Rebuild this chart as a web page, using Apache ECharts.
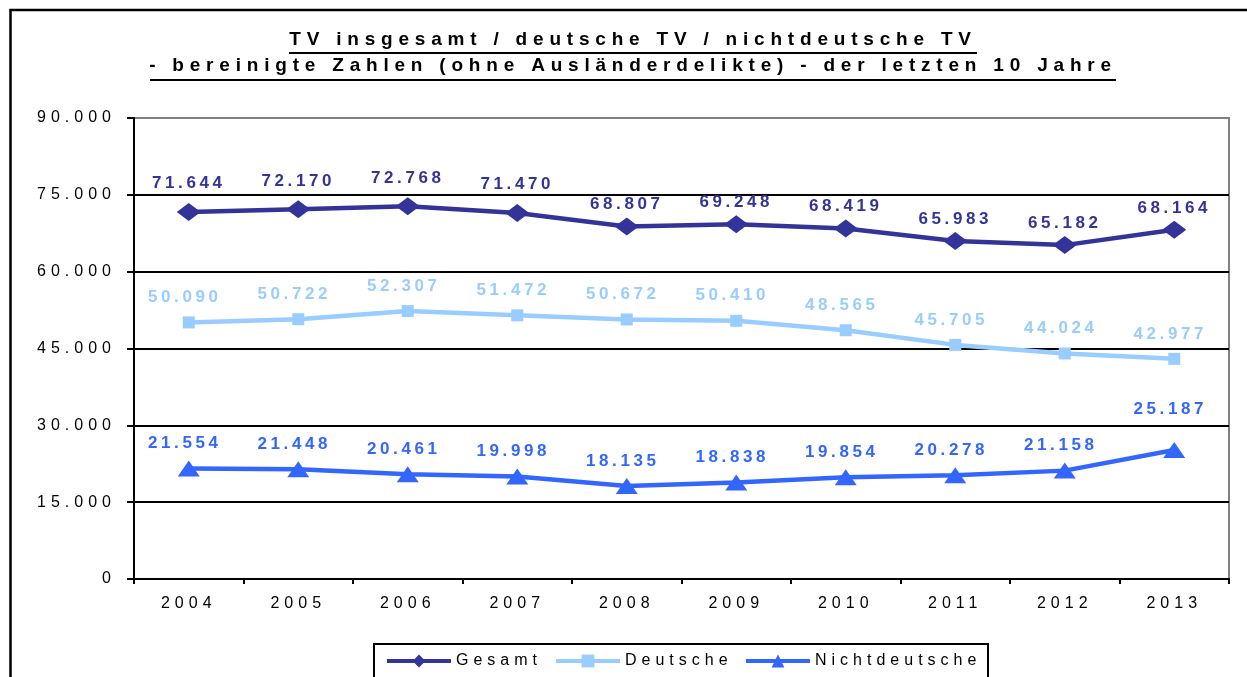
<!DOCTYPE html>
<html>
<head>
<meta charset="utf-8">
<script src="https://cdn.jsdelivr.net/npm/echarts@6/dist/echarts.min.js"></script>
<style>
  html, body { margin: 0; padding: 0; background: #fff; }
  #chart { width: 1247px; height: 677px; }
</style>
</head>
<body>
<div id="chart"></div>
<script>
const years = ['2004', '2005', '2006', '2007', '2008', '2009', '2010', '2011', '2012', '2013'];
const gesamt = [71644, 72170, 72768, 71470, 68807, 69248, 68419, 65983, 65182, 68164];
const deutsche = [50090, 50722, 52307, 51472, 50672, 50410, 48565, 45705, 44024, 42977];
const nichtdeutsche = [21554, 21448, 20461, 19998, 18135, 18838, 19854, 20278, 21158, 25187];
const seriesNames = ['Gesamt', 'Deutsche', 'Nichtdeutsche'];
const titleLines = [
  'TV insgesamt / deutsche TV / nichtdeutsche TV',
  '- bereinigte Zahlen (ohne Ausländerdelikte) - der letzten 10 Jahre'
];

// the original uses wide letter spacing everywhere; echarts has no option for it,
// so set it on the canvas context right before text is drawn
const spacingBySize = { 19: 5.8, 17: 3.6, 16: 5 };
const ctxProto = CanvasRenderingContext2D.prototype;
const origFillText = ctxProto.fillText;
ctxProto.fillText = function (text, x, y, maxWidth) {
  const m = /(\d+)px/.exec(this.font);
  this.letterSpacing = ((m && spacingBySize[m[1]]) || 0) + 'px';
  if (maxWidth === undefined) return origFillText.call(this, text, x, y);
  return origFillText.call(this, text, x, y, maxWidth);
};

const font = '"Liberation Sans", Arial, sans-serif';

function fmt(v) {
  return String(v).replace(/\B(?=(\d{3})+(?!\d))/g, '.');
}

// lift: label offsets for single points that sit higher in the original
function makeSeries(name, values, color, symbol, symbolSize, offset, lift) {
  const data = values.map((v, i) => {
    if (lift && lift[i] !== undefined) {
      return { value: v, label: { offset: [offset[0], lift[i]] } };
    }
    return v;
  });
  return {
    name: name,
    type: 'line',
    data: data,
    symbol: symbol,
    symbolSize: symbolSize,
    lineStyle: { color: color, width: 4.5 },
    itemStyle: { color: color },
    label: {
      show: true,
      position: 'inside',
      offset: offset,
      formatter: (p) => fmt(p.value),
      color: color,
      fontSize: 17,
      fontWeight: 'bold',
      fontFamily: font,
      textBorderWidth: 0
    },
    emphasis: { disabled: true },
    animation: false
  };
}

// one legend per item: the spaced-out text is wider than echarts measures it
function makeLegend(name, left) {
  return {
    data: [name],
    left: left,
    top: 653,
    padding: 0,
    itemWidth: 64,
    itemHeight: 16,
    selectedMode: false,
    lineStyle: { width: 4 },
    textStyle: { fontSize: 16, fontFamily: font, color: '#000' }
  };
}

const chart = echarts.init(document.getElementById('chart'));

chart.setOption({
  backgroundColor: '#fff',
  animation: false,
  title: {
    text: titleLines.join('\n'),
    left: 633,
    top: 27,
    textAlign: 'center',
    padding: 0,
    textStyle: {
      fontSize: 19,
      fontWeight: 'bold',
      fontFamily: font,
      color: '#000',
      lineHeight: 26
    }
  },
  graphic: [
    // outer frame
    { type: 'rect', shape: { x: 10.5, y: 10, width: 1300, height: 700 },
      style: { fill: null, stroke: '#000', lineWidth: 2.5 }, silent: true },
    // title underlines
    { type: 'line', shape: { x1: 289, y1: 53, x2: 977, y2: 53 },
      style: { stroke: '#000', lineWidth: 2 }, silent: true },
    { type: 'line', shape: { x1: 150, y1: 80, x2: 1116, y2: 80 },
      style: { stroke: '#000', lineWidth: 2 }, silent: true },
    // legend box
    { type: 'rect', shape: { x: 374, y: 644, width: 614, height: 60 },
      style: { fill: null, stroke: '#000', lineWidth: 2 }, silent: true }
  ],
  legend: [
    makeLegend(seriesNames[0], 385),
    makeLegend(seriesNames[1], 554),
    makeLegend(seriesNames[2], 744)
  ],
  grid: {
    left: 134,
    right: 18,
    top: 118,
    bottom: 98,
    show: true,
    backgroundColor: '#fff',
    borderColor: '#808080',
    borderWidth: 2
  },
  xAxis: {
    type: 'category',
    data: years,
    boundaryGap: true,
    axisLine: { lineStyle: { color: '#000', width: 2 } },
    axisTick: { show: true, length: 5, lineStyle: { color: '#000', width: 2 } },
    axisLabel: { color: '#000', fontSize: 16, fontFamily: font, margin: 17 }
  },
  yAxis: {
    type: 'value',
    min: 0,
    max: 90000,
    interval: 15000,
    axisLine: { show: true, lineStyle: { color: '#000', width: 2 } },
    axisTick: { show: true, length: 7, lineStyle: { color: '#000', width: 2 } },
    axisLabel: { color: '#000', fontSize: 16, fontFamily: font, margin: 18, formatter: fmt },
    splitLine: { show: true, showMaxLine: false, lineStyle: { color: '#000', width: 2 } }
  },
  series: [
    makeSeries(seriesNames[0], gesamt, '#333399', 'diamond', [24, 18], [0, -22], { 0: -29, 1: -28, 2: -28, 3: -29 }),
    makeSeries(seriesNames[1], deutsche, '#99CCFF', 'rect', [12, 12], [-4, -25]),
    makeSeries(seriesNames[2], nichtdeutsche, '#3366FF', 'triangle', [22, 16], [-4, -25], { 9: -41 })
  ]
});
</script>
</body>
</html>
